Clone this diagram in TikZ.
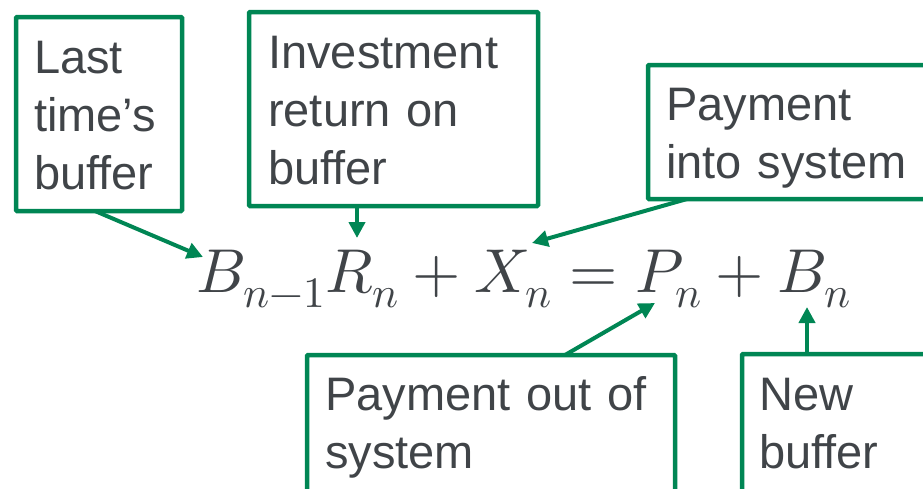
\documentclass[tikz,border=0pt]{standalone}
\usepackage{fontspec}
\usepackage{unicode-math}
\setmainfont{Liberation Sans}
\usetikzlibrary{arrows.meta,calc}
\definecolor{boxgreen}{RGB}{0,134,84}
\definecolor{txtgray}{RGB}{64,68,72}
\begin{document}
\begin{tikzpicture}[x=1pt,y=-1pt,
  gbox/.style={draw=boxgreen,line width=4.5pt,rounded corners=1pt,inner sep=0pt,outer sep=0pt,minimum width=#1},
  lbl/.style={anchor=base west,inner sep=0pt,text=txtgray,text width=400pt,align=left,
    font=\fontsize{47}{58}\selectfont},
  conn/.style={draw=boxgreen,line width=4pt,-{Triangle[length=16pt,width=16pt]}}]
\useasboundingbox (0,0) rectangle (923,488);
\clip (0,0) rectangle (923,488);
% boxes
\node[gbox=166pt,minimum height=194pt] (b1) at (99,114) {};
\node[gbox=289pt,minimum height=194pt] (b2) at (393.5,109) {};
\node[gbox=302pt,minimum height=134pt] (b3) at (799,132) {};
\node[gbox=368pt,minimum height=165pt] (b4) at (491,437.5) {};
\node[gbox=208pt,minimum height=166pt] (b5) at (846,437) {};
% texts
\node[lbl] (t1) at (34,73) {Last\\time’s\\buffer};
\node[lbl] (t2) at (268,68) {Investment\\return on\\buffer};
\node[lbl] (t3) at (666,120) {Payment\\into system};
\node[lbl] (t4) at (325,410) {Payment out of\\system};
\node[lbl] (t5) at (759,410) {New\\buffer};
% equation
\node[anchor=base west,inner sep=0pt,text=txtgray,font=\fontsize{62}{70}\selectfont] (eq) at (196,292) {$B_{n-1}R_n+X_n=P_n+B_n$};
% arrow ends
\coordinate (e1) at (203,257);
\coordinate (e2) at (357,238);
\coordinate (e3) at (532,243);
\coordinate (e4) at (655,303);
\coordinate (e5) at (807,307);
% connectors
\draw[conn] ($(b1.south west)+(79,0)$) -- (e1);
\draw[conn] ($(b2.south west)+(108,0)$) -- (e2);
\draw[conn] ($(b3.south west)+(39,0)$) -- (e3);
\draw[conn] ($(b4.north west)+(258,0)$) -- (e4);
\draw[conn] ($(b5.north west)+(65,0)$) -- (e5);
\end{tikzpicture}
\end{document}
